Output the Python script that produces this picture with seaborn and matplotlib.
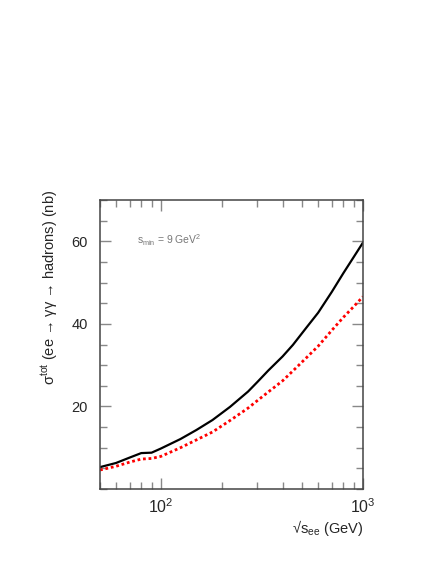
import numpy as np
import pandas as pd
import matplotlib
matplotlib.use("Agg")
import matplotlib.pyplot as plt
import seaborn as sns
from matplotlib.ticker import LogLocator, MultipleLocator, FixedLocator, NullFormatter

# sqrt(s_ee) in GeV
energy = [50, 60, 70, 80, 90, 100, 125, 150, 180, 220, 270, 300, 340, 400, 450, 525, 600, 700, 800, 900, 1000]
# total cross section (nb), solid black curve
sigma_full = [5.3, 6.3, 7.6, 8.7, 8.8, 9.8, 12.1, 14.3, 16.7, 19.9, 23.6, 25.9, 28.7, 32.1, 34.9, 39.1, 42.7, 47.7, 52.3, 56.2, 59.7]
# lower estimate, red dotted curve
sigma_low = [4.6, 5.5, 6.5, 7.25, 7.4, 7.9, 10.0, 11.9, 13.8, 16.6, 19.6, 21.4, 23.5, 26.2, 28.6, 31.8, 34.6, 38.4, 41.6, 44.2, 46.6]

df = pd.DataFrame({"E": energy, "full": sigma_full, "low": sigma_low})

sns.set_style("ticks")
plt.rcParams["font.family"] = ["Liberation Sans", "DejaVu Sans"]
plt.rcParams["mathtext.fontset"] = "custom"
plt.rcParams["mathtext.rm"] = "Liberation Sans"
plt.rcParams["mathtext.it"] = "Liberation Sans:italic"
plt.rcParams["mathtext.sf"] = "Liberation Sans"

fig = plt.figure(figsize=(4.36, 5.64), dpi=100)
ax = fig.add_axes([100/436, 75/564, 263/436, 289/564])

sns.lineplot(data=df, x="E", y="full", ax=ax, color="black", lw=1.6)
sns.lineplot(data=df, x="E", y="low", ax=ax, color="#ff0000", lw=2.0, linestyle=(0, (1, 1)))

ax.set_xscale("log")
ax.set_xlim(50, 1000)
ax.set_ylim(0, 70)

ax.xaxis.set_major_locator(FixedLocator([100, 1000]))
ax.set_xticklabels([r"10$^{2}$", r"10$^{3}$"])
ax.xaxis.set_minor_locator(LogLocator(base=10, subs=np.arange(2, 10)))
ax.xaxis.set_minor_formatter(NullFormatter())
ax.yaxis.set_major_locator(FixedLocator([20, 40, 60]))
ax.yaxis.set_minor_locator(MultipleLocator(5))

ax.tick_params(which="both", direction="in", top=True, right=True, color="#888888", width=1)
ax.tick_params(which="major", length=8)
ax.tick_params(which="minor", length=5)
ax.tick_params(axis="y", which="major", labelsize=10.5, pad=9)
ax.tick_params(axis="x", which="major", labelsize=11.5, pad=6)
for s in ax.spines.values():
    s.set_color("#444444")
    s.set_linewidth(1.1)

ax.set_xlabel("")
ax.set_ylabel("")
ax.text(1.0, -0.135, r"√s$_{\rm ee}$ (GeV)", transform=ax.transAxes,
        ha="right", va="center", fontsize=10.5)
ax.text(-0.19, 1.035, r"σ$^{\rm tot}$ (ee → γγ → hadrons) (nb)", transform=ax.transAxes,
        rotation=90, ha="center", va="top", fontsize=10.5)
ax.text(0.14, 0.86, r"s$_{\rm min}$ = 9 GeV$^{2}$", transform=ax.transAxes,
        fontsize=7.5, color="#777777", va="center")

fig.savefig("out.png", dpi=100)
